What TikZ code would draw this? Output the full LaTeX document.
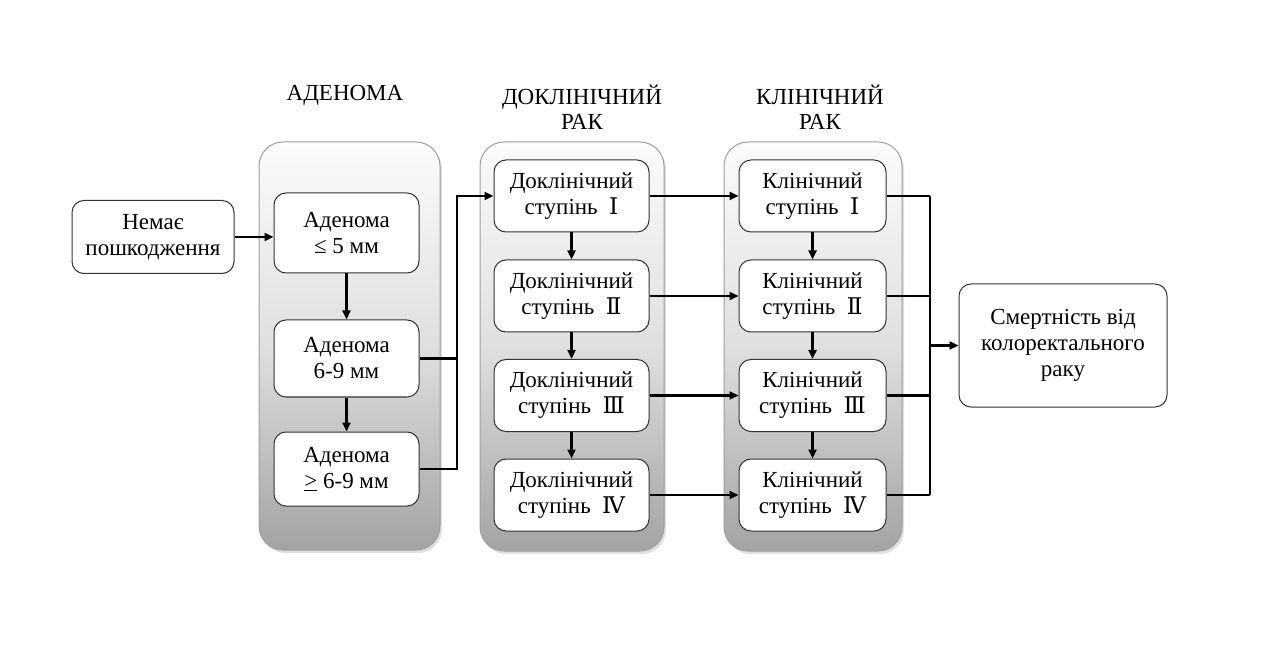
\documentclass[tikz,border=0pt]{standalone}
\usepackage{fontspec}
\setmainfont{Liberation Serif}
\newfontfamily\romfont{DejaVu Serif}
\usetikzlibrary{arrows.meta,shadows}
\begin{document}
\begin{tikzpicture}[x=1pt,y=-1pt,
  font=\fontsize{23}{26}\selectfont,
  cont/.style={rectangle, rounded corners=24pt, draw=gray!75, line width=1pt,
    top color=gray!3, bottom color=gray!72, middle color=gray!25,
    drop shadow={shadow xshift=2pt,shadow yshift=-3pt,opacity=0.25}},
  box/.style={rectangle, rounded corners=12pt, draw=black!80, line width=1pt,
    fill=white, align=center, inner sep=2pt},
  conn/.style={line width=2.4pt},
  arr/.style={conn, -{Triangle[length=9pt,width=8pt]}},
  hdr/.style={align=center, font=\fontsize{23}{25}\selectfont}
]
\useasboundingbox (0,0) rectangle (1267,652);
% containers
\node[cont, minimum width=181, minimum height=408] (cA) at (349.5,346) {};
\node[cont, minimum width=184, minimum height=409] (cP) at (572,346.5) {};
\node[cont, minimum width=178, minimum height=409] (cC) at (813,346.5) {};
% headers
\node[hdr] (hA) at (345,95) {АДЕНОМА};
\node[hdr] (hP) at (582,107) {ДОКЛІНІЧНИЙ\\РАК};
\node[hdr] (hC) at (820,107) {КЛІНІЧНИЙ\\РАК};
% boxes
\node[box, minimum width=162, minimum height=73] (n0) at (153,237) {Немає\\пошкодження};
\node[box, minimum width=145, minimum height=80] (a1) at (346.5,233) {Аденома\\≤ 5 мм};
\node[box, minimum width=145, minimum height=77] (a2) at (346.5,358.5) {Аденома\\6-9 мм};
\node[box, minimum width=145, minimum height=74] (a3) at (346.5,469) {Аденома\\\underline{>} 6-9 мм};
\foreach \i/\y/\r in {1/196/Ⅰ,2/296/Ⅱ,3/395.5/Ⅲ,4/495/Ⅳ}{
  \node[box, minimum width=155, minimum height=72] (p\i) at (571.5,\y) {Доклінічний\\ступінь \ {\romfont\r}};
  \node[box, minimum width=147, minimum height=72] (c\i) at (812.5,\y) {Клінічний\\ступінь \ {\romfont\r}};
}
\node[box, minimum width=208, minimum height=123] (d) at (1063,345.5) {Смертність від\\колоректального\\раку};
% junction coordinates
\coordinate (j) at (457,0);
\coordinate (k) at (930,345.5);
% connectors
\draw[arr] (n0.east) -- (a1.west |- n0.east);
\draw[arr] (a1.south) -- (a2.north);
\draw[arr] (a2.south) -- (a3.north);
\draw[conn] (a2.east) -- (a2.east -| j);
\draw[arr] (a3.east) -- (a3.east -| j) |- (p1.west);
\foreach \i in {1,2,3,4}{
  \draw[arr] (p\i.east) -- (c\i.west);
  \draw[conn] (c\i.east) -- (c\i.east -| k);
}
\foreach \i/\n in {1/2,2/3,3/4}{
  \draw[arr] (p\i.south) -- (p\n.north);
  \draw[arr] (c\i.south) -- (c\n.north);
}
\draw[conn] (c1.east -| k) -- (c4.east -| k);
\draw[arr] (k) -- (d.west);
\end{tikzpicture}
\end{document}
